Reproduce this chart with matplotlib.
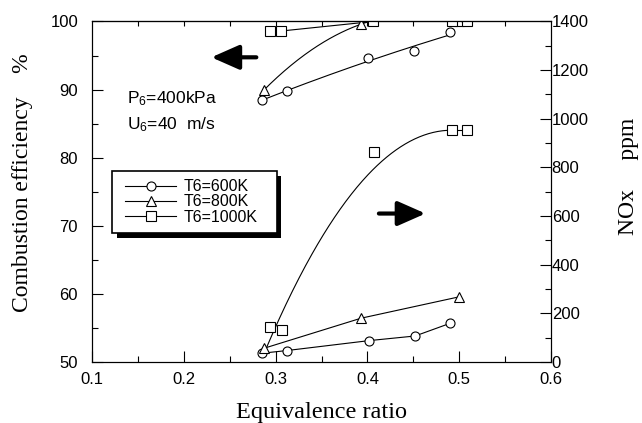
import numpy as np
import matplotlib
matplotlib.use("Agg")
import matplotlib.pyplot as plt
from matplotlib.ticker import MultipleLocator
from matplotlib.lines import Line2D
from matplotlib.patches import Rectangle
from matplotlib.transforms import offset_copy

plt.rcParams['font.family'] = ['Liberation Sans', 'DejaVu Sans']
plt.rcParams['mathtext.fontset'] = 'custom'
plt.rcParams['mathtext.rm'] = 'Liberation Sans'
plt.rcParams['mathtext.it'] = 'Liberation Sans:italic'

# Combustion efficiency (%) vs equivalence ratio
phi_eff_600 = [0.285, 0.312, 0.401, 0.451, 0.490]
eff_600 = [88.4, 89.8, 94.7, 95.6, 98.4]
phi_eff_800 = [0.287, 0.393, 0.500]
eff_800 = [89.9, 99.6, 100.0]
phi_eff_1000 = [0.294, 0.306, 0.406, 0.492, 0.508]
eff_1000 = [98.6, 98.6, 100.0, 100.0, 100.0]

# NOx (ppm) vs equivalence ratio
phi_nox_600 = [0.285, 0.312, 0.402, 0.452, 0.490]
nox_600 = [36, 47, 88, 107, 159]
phi_nox_800 = [0.287, 0.393, 0.500]
nox_800 = [56, 180, 268]
phi_nox_1000 = [0.294, 0.307, 0.407, 0.492, 0.509]
nox_1000 = [143, 131, 864, 953, 953]

labels = ['T6=600K', 'T6=800K', 'T6=1000K']

fig = plt.figure(figsize=(6.42, 4.23), dpi=100)
ax = fig.add_axes([0.1433, 0.1442, 0.715, 0.8050])
ax2 = ax.twinx()

mk = dict(markerfacecolor='white', markeredgecolor='black', markersize=6.5,
          markeredgewidth=0.8, linestyle='none')
lw = 0.8


def fitted(x, y, deg, x0=None, x1=None):
    """Least-squares polynomial trend drawn over [x0, x1]."""
    x = np.asarray(x, float)
    c = np.polyfit(x, np.asarray(y, float), deg)
    xs = np.linspace(x.min() if x0 is None else x0, x.max() if x1 is None else x1, 200)
    return xs, np.polyval(c, xs)


def saturating(x, y, i_top, x0):
    """Parabola with its vertex on point i_top, curvature fitted by least squares."""
    x = np.asarray(x, float)
    y = np.asarray(y, float)
    xt, yt = x[i_top], y[i_top]
    d2 = (x[:i_top] - xt) ** 2
    k = np.sum(d2 * (yt - y[:i_top])) / np.sum(d2 ** 2)
    xs = np.linspace(x0, xt, 200)
    return xs, yt - k * (xs - xt) ** 2


# efficiency curves
ax.plot(*fitted(phi_eff_600, eff_600, 2), color='black', lw=lw)
ax.plot(*fitted(phi_eff_800, eff_800, 2), color='black', lw=lw)
ax.plot(phi_eff_1000, eff_1000, color='black', lw=lw)
ax.plot(phi_eff_600, eff_600, marker='o', **mk)
ax.plot(phi_eff_800, eff_800, marker='^', **mk)
ax.plot(phi_eff_1000, eff_1000, marker='s', **mk)

# NOx curves
ax2.plot(phi_nox_600, nox_600, color='black', lw=lw)
ax2.plot(phi_nox_800, nox_800, color='black', lw=lw)
xs, ys = saturating(phi_nox_1000, nox_1000, 3, phi_nox_1000[0] - 0.004)
ax2.plot(xs, ys, color='black', lw=lw)
ax2.plot(phi_nox_1000[3:], nox_1000[3:], color='black', lw=lw)
ax2.plot(phi_nox_600, nox_600, marker='o', **mk)
ax2.plot(phi_nox_800, nox_800, marker='^', **mk)
ax2.plot(phi_nox_1000, nox_1000, marker='s', **mk)

ax.set_xlim(0.1, 0.6)
ax.set_ylim(50, 100)
ax2.set_ylim(0, 1400)

ax.set_xticks([0.1, 0.2, 0.3, 0.4, 0.5, 0.6])
ax.set_xticklabels(['0.1', '0.2', '0.3', '0.4', '0.5', '0.6'])
ax.xaxis.set_minor_locator(MultipleLocator(0.05))
ax.yaxis.set_major_locator(MultipleLocator(10))
ax.yaxis.set_minor_locator(MultipleLocator(5))
ax2.yaxis.set_major_locator(MultipleLocator(200))
ax2.yaxis.set_minor_locator(MultipleLocator(100))

ax.tick_params(axis='x', which='both', direction='in', top=False, labelsize=12, pad=7)
ax.tick_params(axis='y', which='both', direction='in', right=False, labelsize=12, pad=10)
ax2.tick_params(axis='y', which='both', direction='in', labelsize=12, pad=0.5)
for a in (ax, ax2):
    a.tick_params(which='major', length=8, width=0.8)
    a.tick_params(which='minor', length=4.5, width=0.8)
    for s in a.spines.values():
        s.set_linewidth(0.8)

# short ticks along the top edge
top = ax.secondary_xaxis('top')
top.set_xticks(np.arange(0.15, 0.6, 0.05))
top.tick_params(direction='in', length=3.5, width=0.8, labeltop=False)
top.spines['top'].set_linewidth(0.8)

ax.set_xlabel('Equivalence ratio', family='Liberation Serif', fontsize=17.5, labelpad=11)
ax.set_ylabel('Combustion efficiency    %', family='Liberation Serif', fontsize=17)
ax.yaxis.set_label_coords(-0.128, 0.527)
ax2.set_ylabel('NOx     ppm', family='Liberation Serif', fontsize=17)
ax2.yaxis.set_label_coords(1.146, 0.545)

ax.text(0.1378, 88.6, 'P$_6$=400kPa', fontsize=12.5, va='center', ha='left')
ax.text(0.1378, 84.8, 'U$_6$=40  m/s', fontsize=12.5, va='center', ha='left')

# direction arrows
arw = dict(arrowstyle='-|>,head_length=17,head_width=7.5', lw=3, color='black',
           mutation_scale=1, shrinkA=0, shrinkB=0)
ax.annotate('', xy=(0.230, 94.74), xytext=(0.279, 94.74), arrowprops=arw)
ax.annotate('', xy=(0.4633, 71.8), xytext=(0.4125, 71.8), arrowprops=arw)

# legend box with a solid drop shadow
bx, by, bw, bh = 0.043, 0.379, 0.359, 0.182
shadow_tr = offset_copy(ax.transAxes, fig=fig, x=3.5, y=-3.5, units='points')
ax.add_patch(Rectangle((bx, by), bw, bh, transform=shadow_tr, facecolor='black',
                       edgecolor='black', lw=0, zorder=6))
ax.add_patch(Rectangle((bx, by), bw, bh, transform=ax.transAxes, facecolor='white',
                       edgecolor='black', lw=1.2, zorder=6.1))
handles = [Line2D([], [], color='black', lw=lw, marker=m, markerfacecolor='white',
                  markeredgecolor='black', markersize=6.5, markeredgewidth=0.8)
           for m in ('o', '^', 's')]
leg = ax.legend(handles, labels, loc='center left',
                bbox_to_anchor=(bx + 0.028, by + bh / 2),
                fontsize=11.5, frameon=False, handlelength=3.25,
                handletextpad=0.45, labelspacing=0.02, borderpad=0,
                borderaxespad=0)
leg.set_zorder(7)

fig.savefig('out.png', dpi=100)
